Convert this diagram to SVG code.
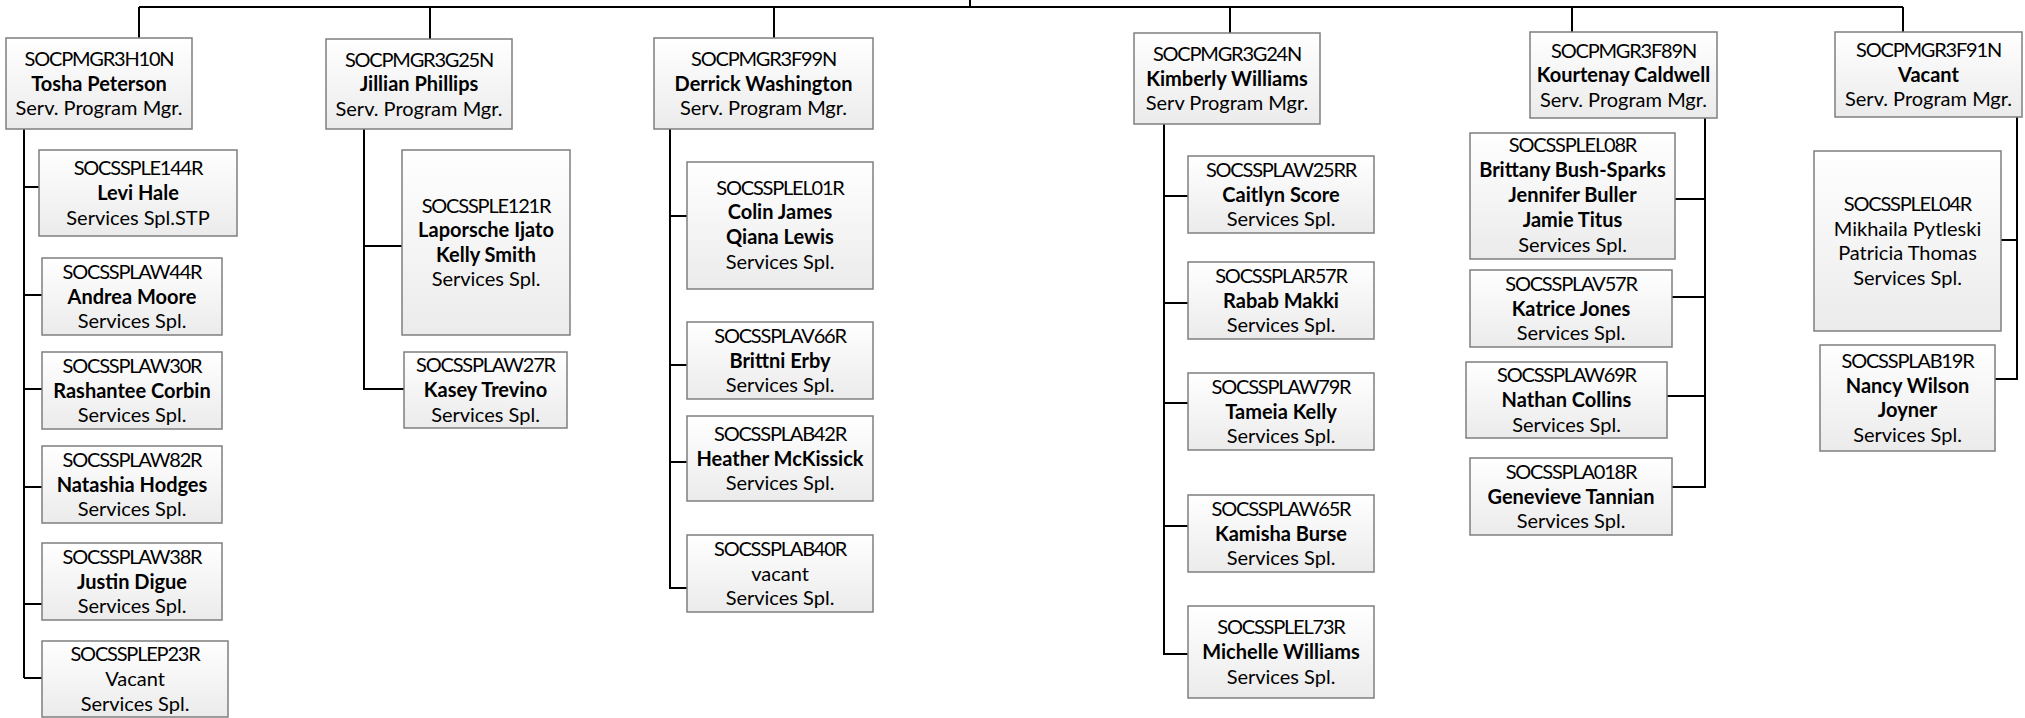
<svg xmlns="http://www.w3.org/2000/svg" width="2025" height="718" viewBox="0 0 2025 718">
<defs>
<linearGradient id="g" x1="0" y1="0" x2="0" y2="1">
<stop offset="0" stop-color="#ffffff"/>
<stop offset="1" stop-color="#ebebeb"/>
</linearGradient>
<style>
.b{fill:url(#g);stroke:#7f7f7f;stroke-width:1.5}
text{font-family:Lato,"Liberation Sans",sans-serif;font-size:20px;fill:#000;text-anchor:middle}
.n{font-weight:bold}
.i{letter-spacing:-1.2px}
.c{fill:none;stroke:#000;stroke-width:2}
</style>
</defs>
<rect width="2025" height="718" fill="#fff"/>
<g id="connectors" class="c">
<path d="M970 0V7M139 7H1903M139 7V38M430 7V39M774 7V38M1230 7V33M1572 7V32M1903 7V32"/>
<path d="M24 129V678M24 187H39M24 295H42M24 389H42M24 487H42M24 604H42M24 678H42"/>
<path d="M364 129V389H404M364 246H402"/>
<path d="M670 129V588H687M670 216H687M670 365H687M670 462H687"/>
<path d="M1164 124V654H1188M1164 196H1188M1164 303H1188M1164 403H1188M1164 526H1188"/>
<path d="M1705 118V487H1672M1675 199H1705M1672 297H1705M1667 396H1705"/>
<path d="M2017 117V379H1995M2001 240H2017"/>
</g>
<g id="m1"><rect class="b" x="6" y="38" width="186" height="91"/><text class="i" x="99" y="66">SOCPMGR3H10N</text><text class="n" x="99" y="90.5">Tosha Peterson</text><text x="99" y="115">Serv. Program Mgr.</text></g>
<g id="m2"><rect class="b" x="326" y="39" width="186" height="90"/><text class="i" x="419" y="66.5">SOCPMGR3G25N</text><text class="n" x="419" y="91">Jillian Phillips</text><text x="419" y="115.5">Serv. Program Mgr.</text></g>
<g id="m3"><rect class="b" x="654" y="38" width="219" height="91"/><text class="i" x="763.5" y="66">SOCPMGR3F99N</text><text class="n" x="763.5" y="90.5">Derrick Washington</text><text x="763.5" y="115">Serv. Program Mgr.</text></g>
<g id="m4"><rect class="b" x="1134" y="33" width="186" height="91"/><text class="i" x="1227" y="61">SOCPMGR3G24N</text><text class="n" x="1227" y="85.5">Kimberly Williams</text><text x="1227" y="110">Serv Program Mgr.</text></g>
<g id="m5"><rect class="b" x="1530" y="32" width="187" height="86"/><text class="i" x="1623.5" y="57.5">SOCPMGR3F89N</text><text class="n" x="1623.5" y="82">Kourtenay Caldwell</text><text x="1623.5" y="106.5">Serv. Program Mgr.</text></g>
<g id="m6"><rect class="b" x="1835" y="32" width="187" height="85"/><text class="i" x="1928.5" y="57">SOCPMGR3F91N</text><text class="n" x="1928.5" y="81.5">Vacant</text><text x="1928.5" y="106">Serv. Program Mgr.</text></g>

<g id="c1a"><rect class="b" x="39" y="150" width="198" height="86"/><text class="i" x="138" y="175.4">SOCSSPLE144R</text><text class="n" x="138" y="200">Levi Hale</text><text x="138" y="224.6">Services Spl.STP</text></g>
<g id="c1b"><rect class="b" x="42" y="258" width="180" height="77"/><text class="i" x="132" y="278.9">SOCSSPLAW44R</text><text class="n" x="132" y="303.5">Andrea Moore</text><text x="132" y="328.1">Services Spl.</text></g>
<g id="c1c"><rect class="b" x="42" y="352" width="180" height="77"/><text class="i" x="132" y="372.9">SOCSSPLAW30R</text><text class="n" x="132" y="397.5">Rashantee Corbin</text><text x="132" y="422.1">Services Spl.</text></g>
<g id="c1d"><rect class="b" x="42" y="446" width="180" height="77"/><text class="i" x="132" y="466.9">SOCSSPLAW82R</text><text class="n" x="132" y="491.5">Natashia Hodges</text><text x="132" y="516.1">Services Spl.</text></g>
<g id="c1e"><rect class="b" x="42" y="543" width="180" height="77"/><text class="i" x="132" y="563.9">SOCSSPLAW38R</text><text class="n" x="132" y="588.5">Justin Digue</text><text x="132" y="613.1">Services Spl.</text></g>
<g id="c1f"><rect class="b" x="42" y="641" width="186" height="76"/><text class="i" x="135" y="661.4">SOCSSPLEP23R</text><text x="135" y="686">Vacant</text><text x="135" y="710.6">Services Spl.</text></g>

<g id="c2a"><rect class="b" x="402" y="150" width="168" height="185"/><text class="i" x="486" y="212.6">SOCSSPLE121R</text><text class="n" x="486" y="237.2">Laporsche Ijato</text><text class="n" x="486" y="261.8">Kelly Smith</text><text x="486" y="286.4">Services Spl.</text></g>
<g id="c2b"><rect class="b" x="404" y="352" width="163" height="76"/><text class="i" x="485.5" y="372.4">SOCSSPLAW27R</text><text class="n" x="485.5" y="397">Kasey Trevino</text><text x="485.5" y="421.6">Services Spl.</text></g>

<g id="c3a"><rect class="b" x="687" y="162" width="186" height="127"/><text class="i" x="780" y="194.6">SOCSSPLEL01R</text><text class="n" x="780" y="219.4">Colin James</text><text class="n" x="780" y="244.2">Qiana Lewis</text><text x="780" y="269">Services Spl.</text></g>
<g id="c3b"><rect class="b" x="687" y="322" width="186" height="77"/><text class="i" x="780" y="342.9">SOCSSPLAV66R</text><text class="n" x="780" y="367.5">Brittni Erby</text><text x="780" y="392.1">Services Spl.</text></g>
<g id="c3c"><rect class="b" x="687" y="416" width="186" height="85"/><text class="i" x="780" y="440.9">SOCSSPLAB42R</text><text class="n" x="780" y="465.5">Heather McKissick</text><text x="780" y="490.1">Services Spl.</text></g>
<g id="c3d"><rect class="b" x="687" y="535" width="186" height="77"/><text class="i" x="780" y="555.9">SOCSSPLAB40R</text><text x="780" y="580.5">vacant</text><text x="780" y="605.1">Services Spl.</text></g>

<g id="c4a"><rect class="b" x="1188" y="156" width="186" height="77"/><text class="i" x="1281" y="176.9">SOCSSPLAW25RR</text><text class="n" x="1281" y="201.5">Caitlyn Score</text><text x="1281" y="226.1">Services Spl.</text></g>
<g id="c4b"><rect class="b" x="1188" y="262" width="186" height="77"/><text class="i" x="1281" y="282.9">SOCSSPLAR57R</text><text class="n" x="1281" y="307.5">Rabab Makki</text><text x="1281" y="332.1">Services Spl.</text></g>
<g id="c4c"><rect class="b" x="1188" y="373" width="186" height="77"/><text class="i" x="1281" y="393.9">SOCSSPLAW79R</text><text class="n" x="1281" y="418.5">Tameia Kelly</text><text x="1281" y="443.1">Services Spl.</text></g>
<g id="c4d"><rect class="b" x="1188" y="495" width="186" height="77"/><text class="i" x="1281" y="515.9">SOCSSPLAW65R</text><text class="n" x="1281" y="540.5">Kamisha Burse</text><text x="1281" y="565.1">Services Spl.</text></g>
<g id="c4e"><rect class="b" x="1188" y="606" width="186" height="92"/><text class="i" x="1281" y="634.4">SOCSSPLEL73R</text><text class="n" x="1281" y="659">Michelle Williams</text><text x="1281" y="683.6">Services Spl.</text></g>

<g id="c5a"><rect class="b" x="1470" y="133" width="205" height="126"/><text class="i" x="1572.5" y="151.5">SOCSSPLEL08R</text><text class="n" x="1572.5" y="176.6">Brittany Bush-Sparks</text><text class="n" x="1572.5" y="201.7">Jennifer Buller</text><text class="n" x="1572.5" y="226.8">Jamie Titus</text><text x="1572.5" y="251.9">Services Spl.</text></g>
<g id="c5b"><rect class="b" x="1470" y="270" width="202" height="77"/><text class="i" x="1571" y="290.9">SOCSSPLAV57R</text><text class="n" x="1571" y="315.5">Katrice Jones</text><text x="1571" y="340.1">Services Spl.</text></g>
<g id="c5c"><rect class="b" x="1466" y="362" width="201" height="76"/><text class="i" x="1566.5" y="382.4">SOCSSPLAW69R</text><text class="n" x="1566.5" y="407">Nathan Collins</text><text x="1566.5" y="431.6">Services Spl.</text></g>
<g id="c5d"><rect class="b" x="1470" y="458" width="202" height="77"/><text class="i" x="1571" y="478.9">SOCSSPLA018R</text><text class="n" x="1571" y="503.5">Genevieve Tannian</text><text x="1571" y="528.1">Services Spl.</text></g>

<g id="c6a"><rect class="b" x="1814" y="151" width="187" height="180"/><text class="i" x="1907.5" y="211.1">SOCSSPLEL04R</text><text x="1907.5" y="235.7">Mikhaila Pytleski</text><text x="1907.5" y="260.3">Patricia Thomas</text><text x="1907.5" y="284.9">Services Spl.</text></g>
<g id="c6b"><rect class="b" x="1820" y="345" width="175" height="106"/><text class="i" x="1907.5" y="368.1">SOCSSPLAB19R</text><text class="n" x="1907.5" y="392.7">Nancy Wilson</text><text class="n" x="1907.5" y="417.3">Joyner</text><text x="1907.5" y="441.9">Services Spl.</text></g>
</svg>
